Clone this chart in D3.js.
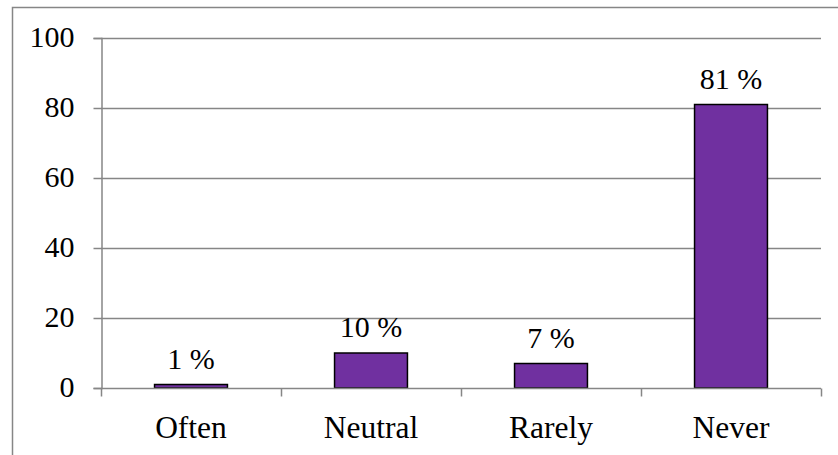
<!DOCTYPE html>
<html>
<head>
<meta charset="utf-8">
<script src="https://cdn.jsdelivr.net/npm/d3@7"></script>
<style>
html,body{margin:0;padding:0;background:#fff;}
svg{display:block;}
text{font-family:"Liberation Serif","Times New Roman",serif;fill:#000;}
</style>
</head>
<body>
<svg id="chart" width="838" height="455"></svg>
<script>
const categories = ["Often", "Neutral", "Rarely", "Never"];
const values = [1, 10, 7, 81];
const valueLabels = ["1 %", "10 %", "7 %", "81 %"];
const yTicks = [0, 20, 40, 60, 80, 100];

const W = 838, H = 455;
const margin = {left: 101, right: 17, top: 38, bottom: 67};
const svg = d3.select("#chart");
const grey = "#868686";
const fontSize = 30;

// outer chart border (right/bottom edges outside view)
svg.append("rect")
  .attr("x", 12.5).attr("y", 7.5)
  .attr("width", W).attr("height", H)
  .attr("fill", "none").attr("stroke", grey).attr("stroke-width", 1.5);

const x = d3.scaleBand().domain(categories)
  .range([margin.left, W - margin.right]).paddingInner(0).paddingOuter(0);
const y = d3.scaleLinear().domain([0, 100]).range([H - margin.bottom, margin.top]);

const g = svg.append("g");

// gridlines
g.selectAll("line.grid").data(yTicks.filter(d => d > 0)).join("line")
  .attr("class", "grid")
  .attr("x1", margin.left).attr("x2", W - margin.right)
  .attr("y1", d => Math.round(y(d)) + 0.5).attr("y2", d => Math.round(y(d)) + 0.5)
  .attr("stroke", grey).attr("stroke-width", 1.5);

// y axis
const yAxis = d3.axisLeft(y).tickValues(yTicks).tickSize(8).tickPadding(19);
const ya = svg.append("g").attr("transform", `translate(${margin.left + 0.5},0)`).call(yAxis);
ya.select(".domain").attr("stroke", grey).attr("stroke-width", 1.5);
ya.selectAll(".tick line").attr("stroke", grey).attr("stroke-width", 1.5);
ya.selectAll(".tick text").attr("font-size", fontSize)
  .attr("font-family", '"Liberation Serif","Times New Roman",serif').attr("fill", "#000")
  .attr("dy", "0.28em");

// bars
const barW = x.bandwidth() * 0.405;
g.selectAll("rect.bar").data(values).join("rect")
  .attr("class", "bar")
  .attr("x", (d, i) => x(categories[i]) + (x.bandwidth() - barW) / 2)
  .attr("width", barW)
  .attr("y", d => y(d))
  .attr("height", d => y(0) - y(d))
  .attr("fill", "#7030A0")
  .attr("stroke", "#000").attr("stroke-width", 1.5);

// x axis
const xa = svg.append("g").attr("transform", `translate(0,${Math.round(y(0)) + 0.5})`);
xa.append("line").attr("x1", margin.left).attr("x2", W - margin.right)
  .attr("stroke", grey).attr("stroke-width", 1.5);
const bounds = categories.map(c => x(c)).concat([x(categories[categories.length - 1]) + x.bandwidth()]);
xa.selectAll("line.tk").data(bounds).join("line")
  .attr("class", "tk")
  .attr("x1", d => d + 0.5).attr("x2", d => d + 0.5)
  .attr("y1", 0).attr("y2", 8)
  .attr("stroke", grey).attr("stroke-width", 1.5);
xa.selectAll("text").data(categories).join("text")
  .attr("x", d => x(d) + x.bandwidth() / 2)
  .attr("y", 49)
  .attr("text-anchor", "middle")
  .attr("font-size", 31.5)
  .text(d => d);

// value labels
g.selectAll("text.val").data(values).join("text")
  .attr("class", "val")
  .attr("x", (d, i) => x(categories[i]) + x.bandwidth() / 2)
  .attr("y", d => y(d) - 16)
  .attr("text-anchor", "middle")
  .attr("font-size", fontSize)
  .text((d, i) => valueLabels[i]);
</script>
</body>
</html>
